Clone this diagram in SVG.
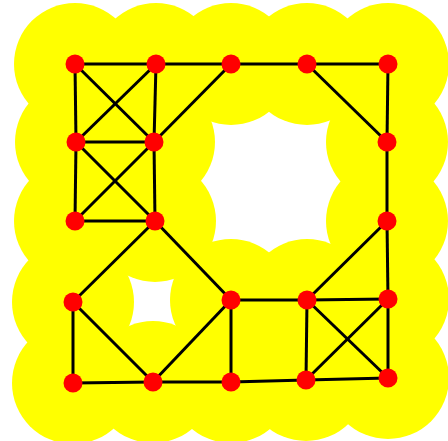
<svg xmlns="http://www.w3.org/2000/svg" width="448" height="441" viewBox="0 0 448 441">
<style>
.halo{fill:#ffff00}
.edge{stroke:#000;stroke-width:3;fill:none}
.dot{fill:#ff0000}
</style>
<rect width="448" height="441" fill="#fff"/>
<g id="halos" class="halo">
<circle cx="75" cy="64" r="61"/><circle cx="156" cy="64" r="61"/><circle cx="231" cy="64" r="61"/><circle cx="307" cy="64" r="61"/><circle cx="388" cy="64" r="61"/>
<circle cx="76" cy="142" r="61"/><circle cx="154" cy="142" r="61"/><circle cx="387" cy="142" r="61"/>
<circle cx="75" cy="221" r="61"/><circle cx="155" cy="221" r="61"/><circle cx="387" cy="221" r="61"/>
<circle cx="73" cy="302" r="61"/><circle cx="231" cy="300" r="61"/><circle cx="307" cy="300" r="61"/><circle cx="388" cy="299" r="61"/>
<circle cx="73" cy="383" r="61"/><circle cx="153" cy="382" r="61"/><circle cx="231" cy="382" r="61"/><circle cx="306" cy="380" r="61"/><circle cx="388" cy="378" r="61"/>
</g>
<g id="connectors" class="edge">
<line x1="75" y1="64" x2="156" y2="64"/>
<line x1="75" y1="64" x2="76" y2="142"/>
<line x1="75" y1="64" x2="154" y2="142"/>
<line x1="156" y1="64" x2="76" y2="142"/>
<line x1="156" y1="64" x2="154" y2="142"/>
<line x1="156" y1="64" x2="231" y2="64"/>
<line x1="231" y1="64" x2="154" y2="142"/>
<line x1="231" y1="64" x2="307" y2="64"/>
<line x1="307" y1="64" x2="388" y2="64"/>
<line x1="307" y1="64" x2="387" y2="142"/>
<line x1="388" y1="64" x2="387" y2="142"/>
<line x1="387" y1="142" x2="387" y2="221"/>
<line x1="76" y1="142" x2="154" y2="142"/>
<line x1="76" y1="142" x2="75" y2="221"/>
<line x1="76" y1="142" x2="155" y2="221"/>
<line x1="154" y1="142" x2="75" y2="221"/>
<line x1="154" y1="142" x2="155" y2="221"/>
<line x1="75" y1="221" x2="155" y2="221"/>
<line x1="155" y1="221" x2="73" y2="302"/>
<line x1="155" y1="221" x2="231" y2="300"/>
<line x1="73" y1="302" x2="73" y2="383"/>
<line x1="73" y1="302" x2="153" y2="382"/>
<line x1="73" y1="383" x2="153" y2="382"/>
<line x1="153" y1="382" x2="231" y2="300"/>
<line x1="153" y1="382" x2="231" y2="382"/>
<line x1="231" y1="300" x2="231" y2="382"/>
<line x1="231" y1="300" x2="307" y2="300"/>
<line x1="231" y1="382" x2="306" y2="380"/>
<line x1="307" y1="300" x2="306" y2="380"/>
<line x1="307" y1="300" x2="387" y2="221"/>
<line x1="307" y1="300" x2="388" y2="299"/>
<line x1="307" y1="300" x2="388" y2="378"/>
<line x1="388" y1="299" x2="306" y2="380"/>
<line x1="387" y1="221" x2="388" y2="299"/>
<line x1="388" y1="299" x2="388" y2="378"/>
<line x1="306" y1="380" x2="388" y2="378"/>
</g>
<g class="dot">
<g id="n1"><circle cx="75" cy="64" r="9.5"/></g>
<g id="n2"><circle cx="156" cy="64" r="9.5"/></g>
<g id="n3"><circle cx="231" cy="64" r="9.5"/></g>
<g id="n4"><circle cx="307" cy="64" r="9.5"/></g>
<g id="n5"><circle cx="388" cy="64" r="9.5"/></g>
<g id="n6"><circle cx="76" cy="142" r="9.5"/></g>
<g id="n7"><circle cx="154" cy="142" r="9.5"/></g>
<g id="n8"><circle cx="387" cy="142" r="9.5"/></g>
<g id="n9"><circle cx="75" cy="221" r="9.5"/></g>
<g id="n10"><circle cx="155" cy="221" r="9.5"/></g>
<g id="n11"><circle cx="387" cy="221" r="9.5"/></g>
<g id="n12"><circle cx="73" cy="302" r="9.5"/></g>
<g id="n13"><circle cx="231" cy="300" r="9.5"/></g>
<g id="n14"><circle cx="307" cy="300" r="9.5"/></g>
<g id="n15"><circle cx="388" cy="299" r="9.5"/></g>
<g id="n16"><circle cx="73" cy="383" r="9.5"/></g>
<g id="n17"><circle cx="153" cy="382" r="9.5"/></g>
<g id="n18"><circle cx="231" cy="382" r="9.5"/></g>
<g id="n19"><circle cx="306" cy="380" r="9.5"/></g>
<g id="n20"><circle cx="388" cy="378" r="9.5"/></g>
</g>
</svg>
